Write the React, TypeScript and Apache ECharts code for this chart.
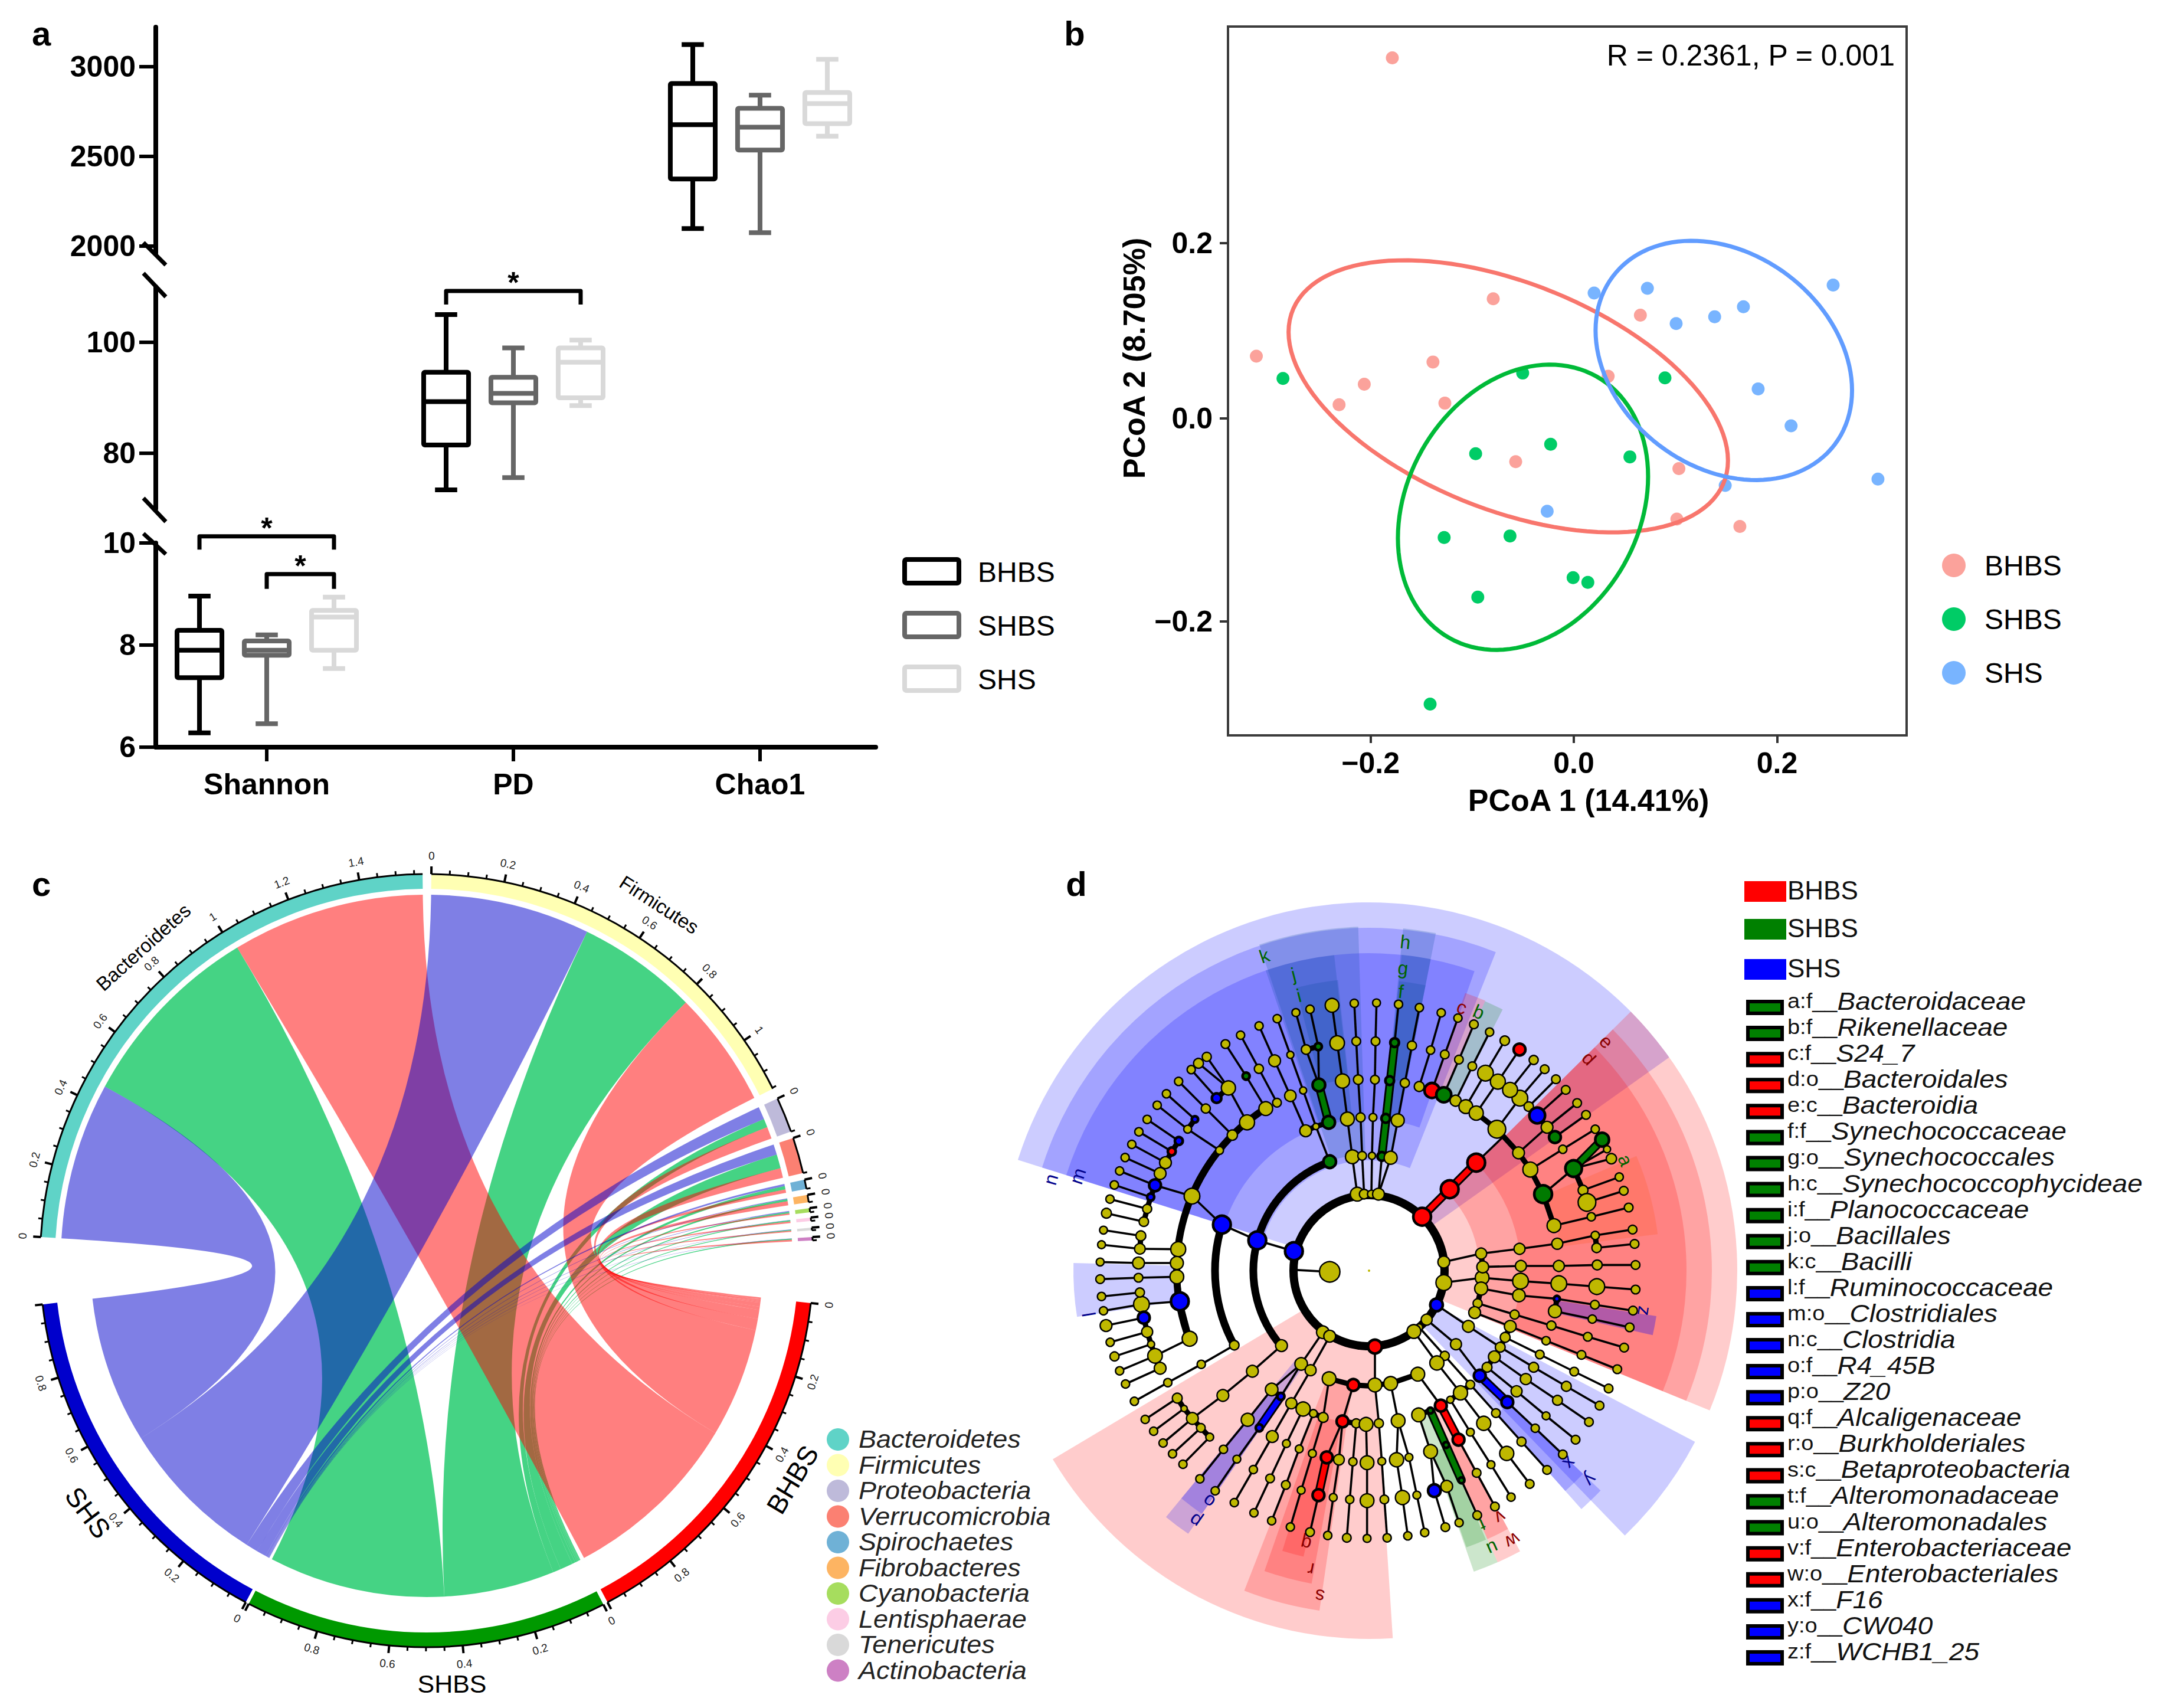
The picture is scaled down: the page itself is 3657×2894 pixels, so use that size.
import React, { useEffect, useRef } from "react";
import * as echarts from "echarts";

const FONT = '"Liberation Sans"';
const W = 3657, H = 2894;

/* ---------- panel a ---------- */
const alphaCategories = ["Shannon", "PD", "Chao1"];
const groupNames = ["BHBS", "SHBS", "SHS"];
const groupStroke = ["#000000", "#666666", "#D9D9D9"];
// min, q1, median, q3, max
const shannonBoxes = [[6.28, 7.36, 7.9, 8.29, 8.96], [6.46, 7.8, 7.9, 8.08, 8.2], [7.54, 7.9, 8.55, 8.68, 8.94]];
const pdBoxes = [[73.4, 81.5, 89.3, 94.6, 105], [75.6, 89.1, 90.8, 93.7, 99], [88.6, 90, 96.4, 99, 100.4]];
const chao1Boxes = [[2097, 2374, 2676, 2906, 3123], [2074, 2535, 2662, 2768, 2841], [2612, 2682, 2794, 2856, 3041]];
// x offset from, x offset to, y of bar, y of tips, category
const shannonBrackets = [[-1, 1, 10.13, 9.87, 0], [0, 1, 9.39, 9.1, 0]];
const pdBrackets = [[-1, 1, 109.25, 106.8, 1]];

/* ---------- panel b ---------- */
const pcoaBHBS = [[-0.1786, 0.4108], [-0.0793, 0.1363], [-0.3124, 0.0709], [-0.1386, 0.0643], [-0.2062, 0.039], [-0.231, 0.0156], [-0.1269, 0.0174], [-0.0572, -0.0492], [0.0655, 0.1177], [0.0338, 0.048], [0.1034, -0.0571], [0.1014, -0.1147], [0.1634, -0.1231]];
const pcoaSHBS = [[-0.2862, 0.0456], [-0.0503, 0.0517], [0.0897, 0.0462], [-0.0966, -0.0402], [-0.0228, -0.0294], [0.0552, -0.0438], [-0.1276, -0.1357], [-0.0628, -0.1339], [-0.0007, -0.1814], [0.0138, -0.1868], [-0.0945, -0.2036], [-0.1414, -0.3255]];
const pcoaSHS = [[0.02, 0.1429], [0.0724, 0.1483], [0.2552, 0.152], [0.1669, 0.1273], [0.1386, 0.1159], [0.1007, 0.1081], [0.1814, 0.0336], [0.2138, -0.0084], [0.2993, -0.0691], [0.149, -0.0763], [-0.0262, -0.1057]];
// centre x, centre y, half width, half height, correlation
const pcoaEllipses = [[-0.0645, 0.0252, 0.2162, 0.155, -0.472], [-0.05, -0.1012, 0.1231, 0.1625, 0.216], [0.1476, 0.0661, 0.1262, 0.1363, -0.251]];
const ellipseColors = ["#F8766D", "#00BA38", "#619CFF"];
const pointColors = ["#FBA29B", "#00CC66", "#78B4FF"];
const pcoa2Ticks = [-0.2313, 0, 0.2];
const pcoa2TickLabels = ["\u22120.2", "0.0", "0.2"];

/* ---------- panel c ---------- */
const phyla = ["Bacteroidetes", "Firmicutes", "Proteobacteria", "Verrucomicrobia", "Spirochaetes", "Fibrobacteres", "Cyanobacteria", "Lentisphaerae", "Tenericutes", "Actinobacteria"];
const phylaColors = ["#5FD3C7", "#FFFFB3", "#BEBADA", "#FB8072", "#6FB1D6", "#FDB462", "#A6DD5E", "#FCCDE5", "#D9D9D9", "#CD80C4"];
const phylaStart = [273.5, 0.7, 65.2, 71.5, 77.9, 80.2, 82.2, 83.6, 85.1, 86.5];
const phylaEnd = [359.4, 63.6, 70.5, 76.9, 79.3, 81.3, 82.8, 84.1, 85.5, 87.0];
const sampleColors = ["#FF0000", "#009900", "#0000CC"];
const sampleStart = [96.3, 152.8, 207.9];
const sampleEnd = [152.1, 207.4, 263.5];
const abundanceBHBS = [0.56, 0.339, 0.035, 0.028, 0.01, 0.012, 0.004, 0.004, 0.003, 0.005];
const abundanceSHBS = [0.557, 0.35, 0.025, 0.04, 0.01, 0.006, 0.004, 0.003, 0.002, 0.003];
const abundanceSHS = [0.456, 0.464, 0.037, 0.03, 0.006, 0.002, 0.002, 0.001, 0.001, 0.001];
const abundance = [abundanceBHBS, abundanceSHBS, abundanceSHS];
const ribbonFill = ["rgba(255,0,0,0.5)", "rgba(0,195,86,0.73)", "rgba(0,0,204,0.5)"];

/* ---------- panel d ---------- */
const cladeCentre = [2320, 2153];
const B = "rgba(0,0,255,0.2)", R = "rgba(255,0,0,0.2)", G = "rgba(0,128,0,0.2)", S = "rgba(0,70,150,0.2)", Z = "rgba(0,0,255,0.3)", O = "rgba(255,90,40,0.25)";
// inner radius, outer radius, from angle, to angle, fill
const cladeWedges: any[] = [
  [128, 624, 287.5, 414.6, B], [187, 581, 287.5, 381.7, B], [257, 538, 287.5, 379.4, B],
  [128, 624, 45.3, 112.3, R], [187, 581, 45.3, 112.3, R], [257, 538, 45.3, 112.3, R],
  [128, 624, 117.7, 136, B], [261, 541, 133.5, 138.3, B], [326, 500, 133.5, 138.3, B],
  [128, 624, 176.3, 239.2, R], [195, 582, 188.3, 201.3, R], [260, 539, 190.4, 199.2, R], [326, 497, 192.9, 197.2, R],
  [195, 541, 214.5, 219.5, B], [261, 500, 214.5, 219.5, B],
  [260, 540, 156.2, 160.8, G], [326, 497, 156.5, 160.6, G],
  [260, 540, 151.7, 156.2, R], [326, 497, 151.7, 156.2, R],
  [326, 501, 261, 271.5, B], [318, 493, 99, 102.8, Z], [326, 493, 66.8, 82.8, O],
  [326, 498, 19.1, 23.3, R], [326, 497, 23.3, 27.1, G],
  [197, 583, 341.4, 358.2, S], [261, 538, 341, 353.7, S], [326, 495, 345.5, 353.9, S],
  [190, 583, 5.7, 11.2, S], [260, 538, 5.9, 11.2, S], [326, 493, 5.9, 11.2, S],
];
// letter, radius, angle, colour
const cladeLetters: any[] = [
  ["n", 561, 286, "#00008B"], ["m", 519, 288, "#00008B"], ["k", 562, 341.6, "#006400"], ["j", 518, 345.7, "#006400"], ["i", 481, 345.7, "#006400"],
  ["h", 560, 6.3, "#006400"], ["g", 516, 6.4, "#006400"], ["f", 476, 6.5, "#006400"], ["c", 473, 19.4, "#8B0000"], ["b", 476, 23, "#006400"],
  ["e", 559, 46, "#8B0000"], ["d", 518, 46, "#8B0000"], ["a", 473, 66.7, "#006400"], ["z", 472, 98.3, "#00008B"], ["y", 516, 133.4, "#00008B"],
  ["x", 471, 133.8, "#00008B"], ["w", 518, 152, "#8B0000"], ["v", 473, 152, "#8B0000"], ["u", 515, 156, "#006400"], ["t", 471, 156, "#006400"],
  ["s", 558, 188.6, "#8B0000"], ["r", 516, 191, "#8B0000"], ["q", 475, 193, "#8B0000"], ["p", 516, 214.8, "#00008B"], ["o", 476, 214.8, "#00008B"], ["l", 480, 261.1, "#00008B"],
];
const cladeOrigins: Record<string, number[]> = { TL: [1840, 1670], TR: [2320, 1670], BL: [1840, 2150], BR: [2320, 2150] };
// each branch: x y radius class ; ..., quadrant by quadrant
const branchesTL = [
  "470 1340 38 y;275 1338 27 y;80 1317 20 y", "463 1410 33 y;268 1410 30 y;73 1405 20 y", "280 1272 25 y;90 1243 20 y", "295 1200 24 y;105 1157 25 y",
  "312 1135 23 y;123 1085 21 y", "330 1075 18 b;145 1013 21 y", "540 1070 40 y;352 1015 30 b;172 942 21 y", "378 955 30 y;200 874 21 y", "405 900 30 y;234 807 21 y",
  "437 843 20 r;270 743 21 y", "473 790 20 b;312 680 21 y", "680 838 20 y;518 730 20 y;363 608 21 y", "555 680 16 b;410 550 21 y", "745 760 26 y;610 625 23 y;472 487 21 y",
  "820 695 38 y;725 520 36 y;573 395 25 y", "725 520 36 y;615 362 23 y", "665 572 24 b;536 427 21 y", "915 625 35 y;815 460 18 g;710 297 22 y", "972 595 22 y;880 423 23 y;787 252 21 y",
  "1118 738 30 y;1040 560 29 y;960 382 30 y;881 205 21 y", "1240 895 32 g;1170 716 16 y;1105 533 18 y;1040 352 18 y;973 168 21 y", "1185 505 32 g;1120 325 24 y;1068 137 20 y",
  "1185 505 32 g;1182 310 18 g;1140 120 21 y", "1235 695 32 g;1185 505 32 g", "1380 1060 35 y;1355 870 35 y;1330 678 35 y;1305 485 36 y;1278 292 37 y;1252 100 35 y",
  "1415 1060 24 y;1405 865 22 y;1397 670 23 y;1385 478 24 y;1375 283 22 y;1365 90 21 y", "1058 1350 45 b;872 1295 45 b;692 1215 45 b;540 1070 40 y",
];
const branchesTR = [
  "12 1060 20 y;15 865 18 y;20 670 20 y;30 478 22 y;33 283 22 y;38 88 20 y", "48 1060 30 y;65 868 22 g;85 675 22 g;105 483 22 g;130 290 22 g;150 95 21 y",
  "48 1060 30 y;110 875 33 y;146 685 33 y;182 495 23 y;218 305 23 y;256 112 21 y", "255 513 25 y;313 328 21 y;367 138 21 y", "320 533 38 r;385 350 22 y;452 165 21 y",
  "380 555 38 g;457 376 22 y;533 197 22 y", "440 585 28 y;525 410 22 y;613 236 21 y", "492 615 35 y;592 445 40 y;690 280 24 y", "545 648 36 y;655 488 38 y;765 325 30 r",
  "650 730 45 y;767 572 40 y;893 425 22 y", "717 530 38 y;837 378 23 y", "812 615 24 y;950 476 22 y", "855 660 40 b;1000 530 22 y", "905 720 30 y;1058 597 22 y", "945 770 30 g;1103 657 22 y",
  "760 850 30 y;905 720 30 y", "820 935 38 y;985 832 21 y;1150 730 21 y", "885 1060 45 g;1040 930 42 g;1185 783 35 g", "1040 930 42 g;1210 832 18 y", "1040 930 42 g;1232 880 26 y",
  "1088 1040 25 y;1272 973 21 y", "1108 1102 45 y;1295 1043 22 y", "940 1220 35 y;1130 1175 21 y;1320 1128 22 y", "380 1405 30 y;570 1362 28 y;765 1338 28 y;957 1312 28 y;1150 1270 21 y;1340 1240 22 y",
  "1157 1333 24 y;1350 1313 22 y", "270 1175 45 r;410 1035 45 r;545 900 45 r;680 770 0 y",
];
const branchesBR = [
  "380 70 40 y;575 45 35 y;770 62 40 y;965 75 40 y;1158 90 40 y;1355 105 22 y", "578 -10 30 y;772 -15 28 y;965 -15 28 y;1160 -20 25 y;1355 -20 22 y",
  "570 100 33 y;762 135 32 y;955 152 15 b;1148 182 22 y;1342 212 22 y", "955 152 15 b;945 215 33 y;1135 255 21 y;1325 297 22 y", "552 175 23 y;740 232 23 y;927 288 23 y;1112 345 22 y;1297 400 22 y",
  "537 222 30 y;718 292 30 y;900 365 21 y;1080 437 22 y;1262 510 22 y", "692 348 25 y;868 435 22 y;1043 522 22 y;1218 608 22 y", "505 292 30 y;667 398 25 y;837 500 25 y;1003 597 25 y;1172 695 22 y",
  "637 447 30 y;797 560 28 y;958 668 25 y;1118 778 22 y", "600 500 25 y;750 622 28 y;900 747 20 y;1050 868 22 y", "343 183 32 b;505 292 30 y", "293 258 28 y;442 383 28 y;563 543 30 b;703 677 30 b;845 810 21 y;985 943 22 y",
  "255 297 18 y;385 442 23 y;515 588 22 y;645 733 22 y;775 878 23 y;905 1022 22 y", "228 318 35 y;345 478 36 y;465 630 36 y;583 785 36 y;700 938 36 y;817 1093 22 y", "413 665 18 y;515 830 20 y;620 995 20 y;722 1160 21 y",
  "248 535 35 y;365 695 30 r;455 868 30 r;547 1037 22 y;640 1208 22 y", "312 720 15 g;392 895 15 g;470 1075 15 g;550 1252 22 y", "252 742 35 y;313 928 35 y;395 1105 30 y;458 1290 21 y", "313 928 35 y;332 1127 32 b;388 1313 22 y",
  "30 590 35 y;50 785 23 y;65 978 20 y;78 1172 22 y;92 1367 21 y", "110 582 35 y;148 772 35 y;140 970 36 y;170 1162 36 y;197 1357 21 y", "148 772 35 y;203 958 20 y;243 1150 20 y;283 1340 21 y", "30 395 35 r;30 590 35 y",
];
const branchesBL = [
  "1360 590 30 r;1305 775 30 r;1225 958 30 r;1183 1150 30 r;1140 1338 22 y", "1375 785 23 y;1358 980 21 y;1342 1172 21 y;1327 1367 22 y", "1425 790 35 y;1430 985 35 y;1430 1178 35 y;1430 1370 20 y",
  "1237 558 35 y;1207 755 25 y;1152 938 20 y;1095 1125 20 y;1040 1312 21 y", "1305 775 30 r;1287 970 27 y;1258 1162 20 y;1230 1355 21 y", "1157 735 20 y;1085 915 20 y;1017 1098 22 y;945 1280 21 y",
  "1105 712 36 y;1020 888 20 y;937 1065 22 y;855 1240 21 y", "1045 683 28 y;948 852 30 y;852 1020 21 y;755 1188 21 y", "1205 322 32 y;1095 483 32 y;992 648 18 b;882 808 18 b;768 967 20 y;658 1128 21 y",
  "1240 342 30 y;1143 515 28 y;1045 683 28 y", "1095 483 32 y;945 613 32 y;823 767 33 y;700 917 21 y;580 1067 21 y", "995 390 30 y;847 520 30 y;697 643 30 y;542 760 30 y",
  "465 657 25 y;302 765 21 y", "500 710 16 y;345 825 21 y", "542 760 30 y;393 885 21 y", "585 808 22 y;441 940 21 y", "630 855 20 y;494 993 21 y", "755 388 24 y;587 485 21 y;417 578 21 y;247 673 21 y",
  "528 355 38 y;352 442 37 y;172 518 21 y", "378 505 30 y;202 585 21 y", "332 383 18 y;146 445 23 y", "312 320 28 y;124 373 21 y", "478 165 45 b;283 180 40 y;90 213 21 y", "275 120 23 y;80 140 21 y",
  "295 248 30 b;103 288 30 y", "463 40 35 y;268 45 22 y;73 52 22 y", "1240 15 52 y;1060 5 0 y",
];
// x1 y1 x2 y2 [class]; no class means a plain thick black link
const thickLinks: Record<string, string[]> = {
  TL: ["280 1272 275 1338", "312 1135 295 1200", "330 1075 312 1135", "352 1015 330 1075", "378 955 352 1015", "378 955 405 900", "405 900 437 843", "437 843 473 790", "518 730 555 680", "665 572 725 520", "1118 738 1170 716", "1170 716 1235 695", "1182 310 1120 325", "1235 695 1185 505 g"],
  TR: ["255 513 440 585", "440 585 492 615", "492 615 545 648", "545 648 650 730", "592 445 655 488", "655 488 717 530", "717 530 767 572", "767 572 812 615", "812 615 855 660", "855 660 905 720", "905 720 945 770", "650 730 760 850", "760 850 820 935", "820 935 885 1060", "885 1060 940 1220", "1040 930 1088 1040", "1088 1040 1108 1102", "1150 1270 1157 1333", "110 875 65 868", "270 1175 410 1035 r", "410 1035 545 900 r", "65 868 130 290 g", "1040 930 1185 783 g"],
  BR: ["570 -78 578 -10", "578 -10 575 45", "575 45 570 100", "570 100 552 175", "552 175 537 222", "718 292 692 348", "692 348 667 398", "667 398 637 447", "637 447 600 500", "600 500 563 543", "465 630 515 588", "465 630 413 665", "30 590 110 582", "110 582 248 535", "955 152 945 215", "252 742 312 720", "563 543 703 677 b", "365 695 455 868 r", "312 720 470 1075 g"],
  BL: ["1237 558 1360 590", "1360 590 1440 595", "1305 775 1375 785", "1375 785 1425 790", "1045 683 1105 712", "1105 712 1157 735", "1157 735 1207 755", "945 613 992 648", "465 657 500 710", "500 710 542 760", "542 760 585 808", "585 808 630 855", "478 165 528 355", "463 40 478 165", "352 442 378 505", "332 383 352 442", "312 320 332 383", "295 248 312 320", "283 180 295 248", "275 120 283 180", "1225 958 1183 1150 r", "992 648 882 808 b"],
};
// radius, from angle, to angle, width
const cladeArcs = [[128, 0, 360, 14], [196, 229.4, 340.1, 13], [261, 241, 287.3, 13], [326, 249.3, 327.5, 12]];
const nodeFill: Record<string, string> = { y: "#BFB800", b: "#0000FF", g: "#007A00", r: "#FF0000" };

const cladeLegendPrefix = ["a:f__", "b:f__", "c:f__", "d:o__", "e:c__", "f:f__", "g:o__", "h:c__", "i:f__", "j:o__", "k:c__", "l:f__", "m:o__", "n:c__", "o:f__", "p:o__", "q:f__", "r:o__", "s:c__", "t:f__", "u:o__", "v:f__", "w:o__", "x:f__", "y:o__", "z:f__"];
const cladeLegendNames = ["Bacteroidaceae", "Rikenellaceae", "S24_7", "Bacteroidales", "Bacteroidia", "Synechococcaceae", "Synechococcales", "Synechococcophycideae", "Planococcaceae", "Bacillales", "Bacilli", "Ruminococcaceae", "Clostridiales", "Clostridia", "R4_45B", "Z20", "Alcaligenaceae", "Burkholderiales", "Betaproteobacteria", "Alteromonadaceae", "Alteromonadales", "Enterobacteriaceae", "Enterobacteriales", "F16", "CW040", "WCHB1_25"];
const cladeLegendGroup = [1, 1, 0, 0, 0, 1, 1, 1, 1, 1, 1, 2, 2, 2, 2, 2, 0, 0, 0, 1, 1, 0, 0, 2, 2, 2];
const cladeGroupColors = ["#FF0000", "#008000", "#0000FF"];

/* ---------- helpers ---------- */
const rad = (a: number) => (a * Math.PI) / 180;
const polar = (c: number[], r: number, a: number) => [c[0] + r * Math.sin(rad(a)), c[1] - r * Math.cos(rad(a))];
const chordCentre = [723, 2136];
const parseNode = (s: string, o: number[]) => {
  const p = s.split(" ");
  return { x: o[0] + +p[0] / 3, y: o[1] + +p[1] / 3, r: +p[2] / 3, c: p[3] };
};
const parseBranches = (list: string[], key: string) => {
  const o = cladeOrigins[key];
  return list.map((b) => b.split(";").map((n) => parseNode(n, o)));
};
const allBranches = [...parseBranches(branchesTL, "TL"), ...parseBranches(branchesTR, "TR"), ...parseBranches(branchesBR, "BR"), ...parseBranches(branchesBL, "BL")];
const edgeList: number[][] = [];
allBranches.forEach((b) => {
  for (let i = 1; i < b.length; i++) edgeList.push([b[i - 1].x, b[i - 1].y, b[i].x, b[i].y]);
});
const nodeMap = new Map<string, any>();
allBranches.forEach((b) => b.forEach((n) => { if (n.r > 0) nodeMap.set(`${n.x.toFixed(1)},${n.y.toFixed(1)}`, n); }));
const nodeList = Array.from(nodeMap.values());
nodeList.push({ x: 2320, y: 2153, r: 2, c: "y" });
const thickList: any[] = [];
Object.keys(thickLinks).forEach((k) => {
  const o = cladeOrigins[k];
  thickLinks[k].forEach((s) => {
    const p = s.split(" ");
    thickList.push([o[0] + +p[0] / 3, o[1] + +p[1] / 3, o[0] + +p[2] / 3, o[1] + +p[3] / 3, p[4] || ""]);
  });
});

/* chord layout derived from the abundance table */
const ribbons: any[] = [];
(() => {
  const sampleCursor = sampleStart.slice();
  const sampleScale = abundance.map((row, s) => (sampleEnd[s] - sampleStart[s]) / row.reduce((x, y) => x + y, 0));
  const phylaPos: number[][] = [];
  phyla.forEach((_, p) => {
    const total = abundance[0][p] + abundance[1][p] + abundance[2][p];
    const sc = (phylaEnd[p] - phylaStart[p]) / total;
    let cur = phylaStart[p];
    const pos = [0, 0, 0];
    [2, 1, 0].forEach((s) => { pos[s] = cur; cur += abundance[s][p] * sc; });
    phylaPos.push([...pos, sc]);
  });
  for (let p = phyla.length - 1; p >= 0; p--) {
    [0, 1, 2].forEach((s) => {
      const v = abundance[s][p];
      const a0 = phylaPos[p][s], a1 = a0 + v * phylaPos[p][3];
      const b0 = sampleCursor[s], b1 = b0 + v * sampleScale[s];
      sampleCursor[s] = b1;
      ribbons.push({ s, a0, a1, b0, b1 });
    });
  }
  ribbons.sort((x, y) => [1, 0, 2].indexOf(x.s) - [1, 0, 2].indexOf(y.s));
})();
const chordSectors: any[] = [
  ...phyla.map((n, i) => ({ name: n, a0: phylaStart[i], a1: phylaEnd[i], color: phylaColors[i], total: abundance[0][i] + abundance[1][i] + abundance[2][i] })),
  ...groupNames.map((n, i) => ({ name: n, a0: sampleStart[i], a1: sampleEnd[i], color: sampleColors[i], total: abundance[i].reduce((x, y) => x + y, 0) })),
];
const sectorPath = (api: any, c: number[], r0: number, r1: number, a0: number, a1: number) => {
  const large = a1 - a0 > 180 ? 1 : 0;
  const p1 = api.coord(polar(c, r1, a0)), p2 = api.coord(polar(c, r1, a1)), p3 = api.coord(polar(c, r0, a1)), p4 = api.coord(polar(c, r0, a0));
  return `M${p1[0]} ${p1[1]}A${r1} ${r1} 0 ${large} 1 ${p2[0]} ${p2[1]}L${p3[0]} ${p3[1]}A${r0} ${r0} 0 ${large} 0 ${p4[0]} ${p4[1]}Z`;
};
const tangentDeg = (a: number) => {
  const n = ((a % 360) + 360) % 360;
  return n < 90 || n > 270 ? n : n - 180;
};

function buildOption() {
  /* ---- panel a ---- */
  const boxRows = (boxes: number[][], cat: number) => boxes.map((b, i) => [cat, i, ...b]);
  const boxRender = (_p: any, api: any) => {
    const cat = api.value(0), g = api.value(1);
    const x = cat + (g - 1) * 0.2727;
    const stroke = groupStroke[g];
    const at = (dx: number, v: number) => api.coord([x + dx, v]);
    const [mn, q1, md, q3, mx] = [2, 3, 4, 5, 6].map((k) => api.value(k));
    const ln = (a: number[], b: number[]) => ({ type: "line", shape: { x1: a[0], y1: a[1], x2: b[0], y2: b[1] }, style: { stroke, lineWidth: 8 } });
    const tl = at(-0.091, q3), br = at(0.091, q1);
    return {
      type: "group",
      children: [
        ln(at(0, q3), at(0, mx)), ln(at(0, q1), at(0, mn)), ln(at(-0.045, mx), at(0.045, mx)), ln(at(-0.045, mn), at(0.045, mn)),
        { type: "rect", shape: { x: tl[0], y: tl[1], width: br[0] - tl[0], height: br[1] - tl[1], r: 2 }, style: { fill: "none", stroke, lineWidth: 8, lineJoin: "round" } },
        ln(at(-0.091, md), at(0.091, md)),
      ],
    };
  };
  const bracketRender = (_p: any, api: any) => {
    const cat = api.value(4);
    const a = api.coord([cat + api.value(0) * 0.2727, api.value(2)]), b = api.coord([cat + api.value(1) * 0.2727, api.value(2)]);
    const ta = api.coord([cat + api.value(0) * 0.2727, api.value(3)]), tb = api.coord([cat + api.value(1) * 0.2727, api.value(3)]);
    return {
      type: "group",
      children: [
        { type: "polyline", shape: { points: [ta, a, b, tb] }, style: { fill: "none", stroke: "#000", lineWidth: 7, lineJoin: "round" } },
        { type: "text", style: { text: "*", x: (a[0] + b[0]) / 2, y: a[1] - 14, fill: "#000", font: `bold 50px ${FONT}`, align: "center", verticalAlign: "middle" } },
      ],
    };
  };
  const xRange = { min: -0.4498, max: 2.469 };
  const gridsA = [
    { left: 264, width: 1220, top: 46, height: 383 },
    { left: 264, width: 1220, top: 486, height: 376 },
    { left: 264, width: 1220, top: 920, height: 346 },
  ];
  const yStyle = (min: number, max: number, vals: number[], gridIndex: number) => ({
    type: "value", gridIndex, min, max, splitLine: { show: false },
    axisLine: { show: true, onZero: false, lineStyle: { color: "#000", width: 8 } },
    axisTick: { show: true, length: 28, customValues: vals, lineStyle: { color: "#000", width: 6 } },
    axisLabel: { customValues: vals, formatter: (v: number) => String(v), margin: 34, color: "#000", fontFamily: FONT, fontWeight: "bold", fontSize: 50 },
  });

  /* ---- panel b ---- */
  const ellipseRender = (p: any, api: any) => {
    const [cx, cy, a, b, r] = pcoaEllipses[p.dataIndex];
    const phi = Math.acos(r);
    const pts: number[][] = [];
    for (let i = 0; i < 120; i++) {
      const t = (i / 120) * Math.PI * 2;
      pts.push(api.coord([cx + a * Math.cos(t), cy + b * Math.cos(t - phi)]));
    }
    return { type: "polygon", shape: { points: pts }, style: { fill: "none", stroke: ellipseColors[p.dataIndex], lineWidth: 7 } };
  };
  const scatter = (name: string, data: number[][], color: string) => ({
    type: "scatter", name, xAxisIndex: 3, yAxisIndex: 3, data, symbolSize: 22, itemStyle: { color, opacity: 1 }, silent: true, z: 3,
  });

  /* ---- panel c ---- */
  const ribbonRender = (p: any, api: any) => {
    const rb = ribbons[p.dataIndex];
    const c = chordCentre;
    const ctr = api.coord(c);
    const s0 = api.coord(polar(c, 620, rb.a0)), s1 = api.coord(polar(c, 620, rb.a1));
    const t0 = api.coord(polar(c, 570, rb.b0)), t1 = api.coord(polar(c, 570, rb.b1));
    const d = `M${s0[0]} ${s0[1]}A620 620 0 0 1 ${s1[0]} ${s1[1]}Q${ctr[0]} ${ctr[1]} ${t0[0]} ${t0[1]}A570 570 0 0 1 ${t1[0]} ${t1[1]}Q${ctr[0]} ${ctr[1]} ${s0[0]} ${s0[1]}Z`;
    return { type: "path", shape: { pathData: d }, style: { fill: ribbonFill[rb.s], stroke: "none" } };
  };
  const sectorRender = (p: any, api: any) => {
    const sec = chordSectors[p.dataIndex];
    const c = chordCentre;
    const children: any[] = [{ type: "path", shape: { pathData: sectorPath(api, c, 630, 655, sec.a0, sec.a1) }, style: { fill: sec.color, stroke: "none" } }];
    const scale = (sec.a1 - sec.a0) / sec.total;
    const big = sec.total > 0.5;
    const a2 = polar(c, 655, sec.a1), a1 = polar(c, 655, sec.a0);
    const q1 = api.coord(a1), q2 = api.coord(a2);
    children.push({ type: "path", shape: { pathData: `M${q1[0]} ${q1[1]}A655 655 0 0 1 ${q2[0]} ${q2[1]}` }, style: { fill: "none", stroke: "#000", lineWidth: 3 } });
    const steps = big ? Math.floor(sec.total / 0.05 + 0.001) : 1;
    for (let i = 0; i <= steps; i++) {
      const v = big ? i * 0.05 : i * sec.total;
      const a = sec.a0 + v * scale;
      const major = i === 0 || (big && i % 4 === 0);
      const u = api.coord(polar(c, 655, a)), w = api.coord(polar(c, major ? 668 : 662, a));
      children.push({ type: "line", shape: { x1: u[0], y1: u[1], x2: w[0], y2: w[1] }, style: { stroke: "#000", lineWidth: major ? 4 : 3 } });
      const labelable = big && i % 4 === 0 && !(sec.total < 1.03 && i >= 20);
      if (i === 0 || labelable) {
        const lp = api.coord(polar(c, 686, a));
        const txt = i === 0 ? "0" : String(+(i * 0.05).toFixed(1));
        children.push({
          type: "text", x: lp[0], y: lp[1], rotation: -rad(tangentDeg(a)),
          style: { text: txt, x: 0, y: 0, fill: "#222", font: `19px ${FONT}`, align: "center", verticalAlign: "middle" },
        });
      }
    }
    return { type: "group", children };
  };

  /* ---- panel d ---- */
  const wedgeRender = (p: any, api: any) => {
    const [r0, r1, a0, a1, fill] = cladeWedges[p.dataIndex];
    return { type: "path", shape: { pathData: sectorPath(api, cladeCentre, r0, r1, a0, a1) }, style: { fill, stroke: "none" } };
  };
  const lineEl = (a: number[], b: number[], stroke: string, lineWidth: number) => ({ type: "line", shape: { x1: a[0], y1: a[1], x2: b[0], y2: b[1] }, style: { stroke, lineWidth } });
  const edgeRender = (p: any, api: any) => {
    const e = edgeList[p.dataIndex];
    return lineEl(api.coord([e[0], e[1]]), api.coord([e[2], e[3]]), "#000", 3.6);
  };
  const thickRender = (p: any, api: any) => {
    const e = thickList[p.dataIndex];
    const a = api.coord([e[0], e[1]]), b = api.coord([e[2], e[3]]);
    if (!e[4]) return lineEl(a, b, "#000", 9);
    return { type: "group", children: [lineEl(a, b, "#000", 15), lineEl(a, b, nodeFill[e[4]], 9)] };
  };
  const arcRender = (p: any, api: any) => {
    const [r, a0, a1, w] = cladeArcs[p.dataIndex];
    const ctr = api.coord(cladeCentre);
    if (a1 - a0 >= 360) return { type: "circle", shape: { cx: ctr[0], cy: ctr[1], r }, style: { fill: "none", stroke: "#000", lineWidth: w } };
    const s = api.coord(polar(cladeCentre, r, a0)), e = api.coord(polar(cladeCentre, r, a1));
    return { type: "path", shape: { pathData: `M${s[0]} ${s[1]}A${r} ${r} 0 ${a1 - a0 > 180 ? 1 : 0} 1 ${e[0]} ${e[1]}` }, style: { fill: "none", stroke: "#000", lineWidth: w } };
  };
  const nodeRender = (p: any, api: any) => {
    const n = nodeList[p.dataIndex];
    const q = api.coord([n.x, n.y]);
    const yellow = n.c === "y";
    return { type: "circle", shape: { cx: q[0], cy: q[1], r: n.r }, style: { fill: nodeFill[n.c], stroke: "#000", lineWidth: n.r < 3 ? 0 : yellow ? 2.4 : 4.5 } };
  };
  const letterRender = (p: any, api: any) => {
    const [t, r, a, color] = cladeLetters[p.dataIndex];
    const q = api.coord(polar(cladeCentre, r, a));
    return { type: "text", x: q[0], y: q[1], rotation: -rad(a), style: { text: t, x: 0, y: 0, fill: color, font: `32px ${FONT}`, align: "center", verticalAlign: "middle" } };
  };
  const idx = (arr: any[]) => arr.map((_, i) => [i]);
  const custom = (data: any[], renderItem: any, z: number) => ({ type: "custom", xAxisIndex: 4, yAxisIndex: 4, data: idx(data), renderItem, z, silent: true, encode: { x: 0, y: 0 } });

  /* ---- graphics ---- */
  const g: any[] = [];
  const text = (t: string, x: number, y: number, font: string, opt: any = {}) => g.push({
    type: "text", x, y, rotation: opt.rot ? rad(opt.rot) : 0, scaleX: opt.sx || 1,
    style: { text: t, x: 0, y: 0, fill: opt.fill || "#000", font, align: opt.align || "left", verticalAlign: "middle" },
  });
  const letterFont = `bold 58px ${FONT}`;
  text("a", 70, 56, letterFont, { align: "center" });
  text("b", 1821, 56, letterFont, { align: "center" });
  text("c", 70, 1497, letterFont, { align: "center" });
  text("d", 1824, 1497, letterFont, { align: "center" });
  [[243, 411, 281, 449], [243, 463, 281, 503], [243, 844, 281, 884], [243, 904, 281, 939]].forEach((l) =>
    g.push({ type: "line", shape: { x1: l[0], y1: l[1], x2: l[2], y2: l[3] }, style: { stroke: "#000", lineWidth: 7 } }));
  [948, 1039, 1130].forEach((y, i) => {
    g.push({ type: "rect", shape: { x: 1533, y, width: 92, height: 40, r: 3 }, style: { fill: "none", stroke: groupStroke[i], lineWidth: 8 } });
    text(groupNames[i], 1657, y + 21, `48px ${FONT}`);
  });
  text("R = 0.2361, P = 0.001", 3211, 94, `50px ${FONT}`, { align: "right" });
  text("PCoA 1 (14.41%)", 2692, 1356, `bold 52px ${FONT}`, { align: "center" });
  text("PCoA 2 (8.705%)", 1922, 607, `bold 52px ${FONT}`, { align: "center", rot: 90 });
  [958, 1049, 1140].forEach((y, i) => {
    g.push({ type: "circle", shape: { cx: 3311, cy: y, r: 20 }, style: { fill: pointColors[i] } });
    text(groupNames[i], 3363, y, `48px ${FONT}`);
  });
  text("Bacteroidetes", 243, 1605, `33px ${FONT}`, { align: "center", rot: 42 });
  text("Firmicutes", 1117, 1533, `33px ${FONT}`, { align: "center", rot: -33 });
  text("BHBS", 1343, 2507, `46px ${FONT}`, { align: "center", rot: 59 });
  text("SHBS", 766, 2853, `43px ${FONT}`, { align: "center" });
  text("SHS", 149, 2563, `46px ${FONT}`, { align: "center", rot: -53 });
  phyla.forEach((p, i) => {
    const y = 2439 + i * 43.5;
    g.push({ type: "circle", shape: { cx: 1420, cy: y, r: 19 }, style: { fill: phylaColors[i] } });
    text(p, 1455, y, `italic 42px ${FONT}`, { fill: "#222", sx: 1.07 });
  });
  groupNames.forEach((n, i) => {
    const y = [1493, 1557, 1625][i];
    g.push({ type: "rect", shape: { x: 2956, y, width: 71, height: 35 }, style: { fill: cladeGroupColors[i] } });
    text(n, 3029, y + 15, `44px ${FONT}`, { fill: "#111" });
  });
  cladeLegendNames.forEach((n, i) => {
    const y = 1707 + i * 44.08;
    g.push({ type: "rect", shape: { x: 2962, y: y - 10, width: 58, height: 20 }, style: { fill: cladeGroupColors[cladeLegendGroup[i]], stroke: "#000", lineWidth: 6 } });
    g.push({
      type: "text", x: 3029, y: y - 11, scaleX: 1.07,
      style: {
        text: `{p|${cladeLegendPrefix[i]}}{n|${n}}`, x: 0, y: 0, align: "left", verticalAlign: "middle", fill: "#111",
        rich: { p: { fontFamily: FONT, fontSize: 35.5, fill: "#111" }, n: { fontFamily: FONT, fontSize: 43, fontStyle: "italic", fill: "#111" } },
      },
    });
  });

  const hiddenX = (gridIndex: number) => ({ type: "value", gridIndex, ...xRange, show: false });

  return {
    animation: false,
    backgroundColor: "#fff",
    grid: [
      ...gridsA,
      { left: 2081, width: 1150, top: 45, height: 1201, show: true, borderColor: "#3C3C3C", borderWidth: 4, backgroundColor: "transparent" },
      { left: 0, top: 0, width: W, height: H },
    ],
    xAxis: [
      hiddenX(0), hiddenX(1),
      {
        type: "value", gridIndex: 2, ...xRange, splitLine: { show: false },
        axisLine: { show: true, onZero: false, lineStyle: { color: "#000", width: 8 } },
        axisTick: { show: true, length: 24, customValues: [0, 1, 2], lineStyle: { color: "#000", width: 6 } },
        axisLabel: { customValues: [0, 1, 2], formatter: (v: number) => alphaCategories[v], margin: 38, color: "#000", fontFamily: FONT, fontWeight: "bold", fontSize: 50 },
      },
      {
        type: "value", gridIndex: 3, min: -0.3403, max: 0.3275, splitLine: { show: false }, axisLine: { show: false, onZero: false },
        axisTick: { show: true, length: 13, customValues: [-0.2, 0, 0.2], lineStyle: { color: "#333", width: 4 } },
        axisLabel: { customValues: [-0.2, 0, 0.2], formatter: (v: number) => (v < 0 ? "\u2212" : "") + Math.abs(v).toFixed(1), margin: 22, color: "#000", fontFamily: FONT, fontWeight: "bold", fontSize: 50 },
      },
      { type: "value", gridIndex: 4, min: 0, max: W, show: false },
    ],
    yAxis: [
      yStyle(1960, 3220, [2000, 2500, 3000], 0),
      yStyle(70, 110, [80, 100], 1),
      yStyle(6, 10, [6, 8, 10], 2),
      {
        type: "value", gridIndex: 3, min: -0.3611, max: 0.4465, splitLine: { show: false }, axisLine: { show: false, onZero: false },
        axisTick: { show: true, length: 14, customValues: pcoa2Ticks, lineStyle: { color: "#333", width: 4 } },
        axisLabel: {
          customValues: pcoa2Ticks, margin: 26, color: "#000", fontFamily: FONT, fontWeight: "bold", fontSize: 50,
          formatter: (v: number) => { let b = 0; pcoa2Ticks.forEach((t, i) => { if (Math.abs(t - v) < Math.abs(pcoa2Ticks[b] - v)) b = i; }); return pcoa2TickLabels[b]; },
        },
      },
      { type: "value", gridIndex: 4, min: 0, max: H, inverse: true, show: false },
    ],
    series: [
      { type: "custom", name: "Chao1", xAxisIndex: 0, yAxisIndex: 0, data: boxRows(chao1Boxes, 2), renderItem: boxRender, silent: true, encode: { x: 0, y: 4 } },
      { type: "custom", name: "PD", xAxisIndex: 1, yAxisIndex: 1, data: boxRows(pdBoxes, 1), renderItem: boxRender, silent: true, encode: { x: 0, y: 4 } },
      { type: "custom", name: "Shannon", xAxisIndex: 2, yAxisIndex: 2, data: boxRows(shannonBoxes, 0), renderItem: boxRender, silent: true, encode: { x: 0, y: 4 } },
      { type: "custom", xAxisIndex: 1, yAxisIndex: 1, data: pdBrackets, renderItem: bracketRender, silent: true, encode: { x: 0, y: 2 } },
      { type: "custom", xAxisIndex: 2, yAxisIndex: 2, data: shannonBrackets, renderItem: bracketRender, silent: true, encode: { x: 0, y: 2 } },
      scatter("BHBS", pcoaBHBS, pointColors[0]),
      scatter("SHBS", pcoaSHBS, pointColors[1]),
      scatter("SHS", pcoaSHS, pointColors[2]),
      { type: "custom", xAxisIndex: 3, yAxisIndex: 3, data: pcoaEllipses.map((e) => [e[0], e[1]]), renderItem: ellipseRender, silent: true, z: 4 },
      custom(ribbons, ribbonRender, 2),
      custom(chordSectors, sectorRender, 3),
      custom(cladeWedges, wedgeRender, 2),
      custom(cladeLetters, letterRender, 3),
      custom(cladeArcs, arcRender, 4),
      custom(edgeList, edgeRender, 5),
      custom(thickList, thickRender, 6),
      custom(nodeList, nodeRender, 7),
    ],
    graphic: { elements: g },
  };
}

export default function App() {
  const ref = useRef<HTMLDivElement>(null);
  useEffect(() => {
    const chart = echarts.init(ref.current as HTMLDivElement, null, { renderer: "svg" });
    chart.setOption(buildOption() as any);
    return () => chart.dispose();
  }, []);
  return <div ref={ref} style={{ position: "absolute", left: 0, top: 0, width: W, height: H, background: "#fff" }} />;
}
